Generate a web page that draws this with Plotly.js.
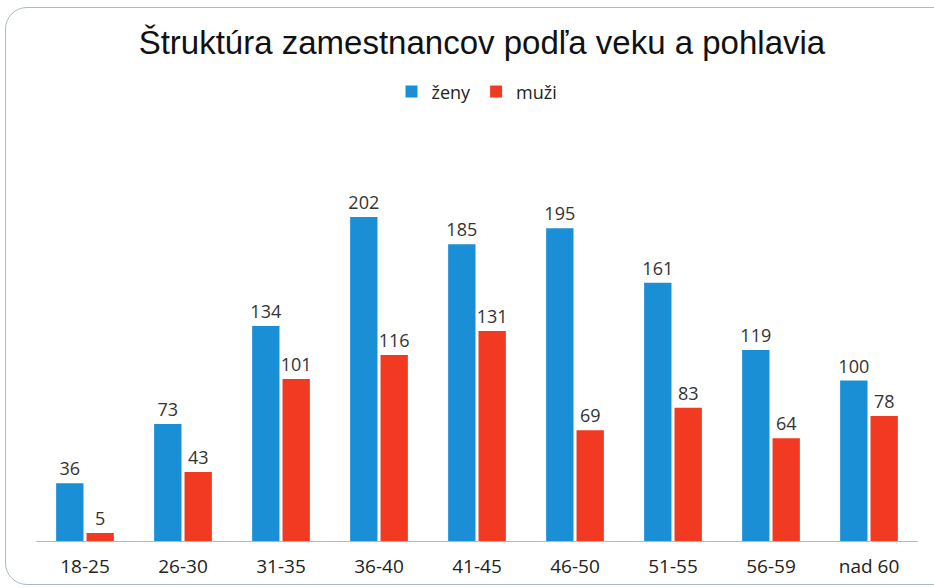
<!DOCTYPE html>
<html>
<head>
<meta charset="utf-8">
<script src="https://cdn.plot.ly/plotly-3.0.1.min.js"></script>
<style>
  html, body { margin: 0; padding: 0; background: #fff; }
  #wrap { position: relative; width: 934px; height: 588px; overflow: hidden; }
  #chart { width: 934px; height: 588px; }
  #frame { position: absolute; left: 5px; top: 7px; width: 950px; height: 576px;
           border: 1.5px solid #a9bcc6; border-radius: 22px; pointer-events: none; }
</style>
</head>
<body>
<div id="wrap">
  <div id="chart"></div>
  <div id="frame"></div>
</div>
<script>
const categories = ["18-25", "26-30", "31-35", "36-40", "41-45", "46-50", "51-55", "56-59", "nad 60"];
const zeny = [36, 73, 134, 202, 185, 195, 161, 119, 100];
const muzi = [5, 43, 101, 116, 131, 69, 83, 64, 78];

const labelFont = { family: "Open Sans, Noto Sans, sans-serif", size: 18, color: "#333333" };

const traces = [
  { type: "bar", name: "ženy", x: categories, y: zeny, marker: { color: "#1a8fd6" },
    text: zeny.map(String), textposition: "outside", textfont: labelFont, cliponaxis: false,
    constraintext: "none" },
  { type: "bar", name: "muži", x: categories, y: muzi, marker: { color: "#f23a22" },
    text: muzi.map(String), textposition: "outside", textfont: labelFont, cliponaxis: false,
    constraintext: "none" }
];

const layout = {
  width: 934, height: 588,
  margin: { l: 36, r: 16, t: 140, b: 47 },
  paper_bgcolor: "rgba(0,0,0,0)", plot_bgcolor: "rgba(0,0,0,0)",
  title: { text: "Štruktúra zamestnancov podľa veku a pohlavia",
           font: { family: "Liberation Sans, Arial, sans-serif", size: 33, color: "#111" },
           x: 0.516, xanchor: "center", y: 0.928, yanchor: "middle" },
  showlegend: true,
  legend: { orientation: "h", x: 0.5, xanchor: "center", y: 1.12, yanchor: "middle",
            font: { family: "Open Sans, Noto Sans, sans-serif", size: 18, color: "#222" },
            itemwidth: 30, tracegroupgap: 0 },
  barmode: "group", bargap: 0.38, bargroupgap: 0.1,
  xaxis: { type: "category", showline: true, linecolor: "#b8b8b8", linewidth: 1,
           ticks: "", ticklabelstandoff: 8,
           tickfont: { family: "Open Sans, Noto Sans, sans-serif", size: 19, color: "#222" },
           showgrid: false, zeroline: false },
  yaxis: { range: [0, 250], visible: false, showgrid: false, zeroline: false },
  font: { family: "Open Sans, sans-serif" }
};

Plotly.newPlot("chart", traces, layout, { displayModeBar: false, staticPlot: true });
</script>
</body>
</html>
